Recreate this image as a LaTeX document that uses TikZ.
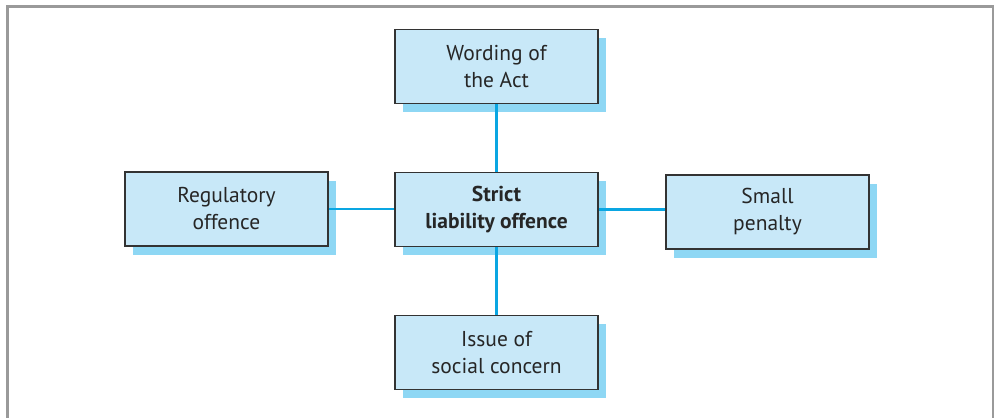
\documentclass[tikz,border=0pt]{standalone}
\usepackage{fontspec}
\setmainfont{PT Sans}
\usepackage{tikz}
\usetikzlibrary{shapes,arrows,positioning,shadows}
\definecolor{boxfill}{HTML}{C8E8F8}
\definecolor{boxshade}{HTML}{8ED7F4}
\definecolor{linkblue}{HTML}{0AA6E2}
\definecolor{framegray}{HTML}{9A9A9A}
\tikzstyle{factbox} = [rectangle, draw=black!80, line width=1.2pt, fill=boxfill, minimum width=203pt, minimum height=74pt, align=center, font=\fontsize{21.5}{27}\selectfont, text=black!85, drop shadow={shadow xshift=8pt, shadow yshift=-8.5pt, fill=boxshade, opacity=1}]
\tikzstyle{link} = [draw, linkblue, line width=2.2pt]

\begin{document}
\begin{tikzpicture}[x=1pt, y=-1pt]
				\useasboundingbox (0,0) rectangle (995,418);
				% frame
				\draw [framegray, line width=3pt] (6,6.5) -- (994,6.5);
				\draw [framegray, line width=3pt] (7.5,5) -- (7.5,418);
				\draw [framegray, line width=2pt] (993,5) -- (993,418);

				\node [factbox] (wording) at (496.5,66.5) {Wording of\\the Act};
				\node [factbox, font=\fontsize{21.5}{27}\selectfont\bfseries] (strict) at (496.5,209.5) {Strict\\liability offence};
				\node [factbox] (regulatory) at (226.5,209) {Regulatory\\offence};
				\node [factbox] (penalty) at (767.5,212) {Small\\penalty};
				\node [factbox] (concern) at (496.5,352.5) {Issue of\\social concern};

				\path [link] (wording) -- (strict);
				\path [link] (strict) -- (concern);
				\path [link] (regulatory) -- (regulatory -| strict.west);
				\path [link] (strict.east) -- (strict.east -| penalty.west);
			\end{tikzpicture}
\end{document}
